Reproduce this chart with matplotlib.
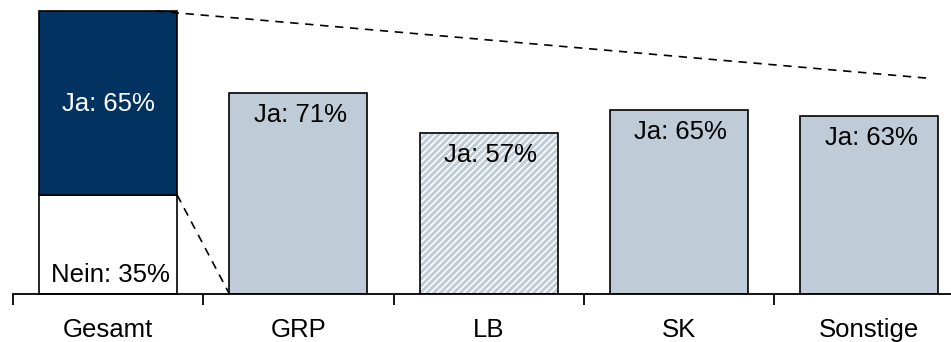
import matplotlib
matplotlib.use("Agg")
import matplotlib.pyplot as plt

plt.rcParams['font.family'] = ['Liberation Sans', 'DejaVu Sans']
plt.rcParams['hatch.linewidth'] = 2.2

categories = ['Gesamt', 'GRP', 'LB', 'SK', 'Sonstige']
ja_values = [65, 71, 57, 65, 63]
nein_total = 35
ja_labels = ['Ja: %d%%' % v for v in ja_values]

navy = '#02325F'
grey = '#BFCBD7'
bar_w = 0.725

fig = plt.figure(figsize=(9.51, 3.42), dpi=100)
ax = fig.add_axes([13 / 951, 1 - 294 / 342, 1 - 13 / 951, (294 - 11) / 342])
ax.set_xlim(-0.5, 4.43)
ax.set_ylim(0, 100)

# total bar: Nein at the bottom, Ja stacked on top
ax.bar(0, nein_total, bar_w, color='white', edgecolor='black', linewidth=1.2, clip_on=False)
ax.bar(0, ja_values[0], bar_w, bottom=nein_total, color=navy, edgecolor='black',
       linewidth=1.2, clip_on=False)
ax.text(0, nein_total + ja_values[0] / 2 - 0.5, ja_labels[0], color='white', fontsize=18.5,
        ha='center', va='center')
ax.text(0.01, 2.5, 'Nein: %d%%' % nein_total, color='black', fontsize=18.5,
        ha='center', va='bottom')

# breakdown by group
for i in range(1, len(categories)):
    if categories[i] == 'LB':
        ax.bar(i, ja_values[i], bar_w, color='white', edgecolor=grey, hatch='/////',
               linewidth=0)
        ax.bar(i, ja_values[i], bar_w, color='none', edgecolor='black', linewidth=1.2)
    else:
        ax.bar(i, ja_values[i], bar_w, color=grey, edgecolor='black', linewidth=1.2)
    ax.text(i + 0.01, ja_values[i] - 3.5, ja_labels[i], color='black', fontsize=18.5,
            ha='center', va='top')

# dashed connector lines from the total bar
ax.plot([0.25, 4.3], [100, 76.3], color='black', linestyle=(0, (5, 4)), linewidth=1.2,
        clip_on=False)
ax.plot([bar_w / 2, 1 - bar_w / 2], [nein_total, 0], color='black', linestyle=(0, (5, 4)),
        linewidth=1.2, clip_on=False)

for side in ['top', 'right', 'left']:
    ax.spines[side].set_visible(False)
ax.spines['bottom'].set_linewidth(1.3)
ax.set_yticks([])
ax.set_xticks([-0.5, 0.5, 1.5, 2.5, 3.5])
ax.set_xticklabels([])
ax.set_xticks(range(len(categories)), minor=True)
ax.set_xticklabels(categories, minor=True, fontsize=18.5)
ax.tick_params(axis='x', which='major', direction='out', length=8, width=1.3)
ax.tick_params(axis='x', which='minor', length=0, pad=17)

fig.savefig('out.png', dpi=100)
